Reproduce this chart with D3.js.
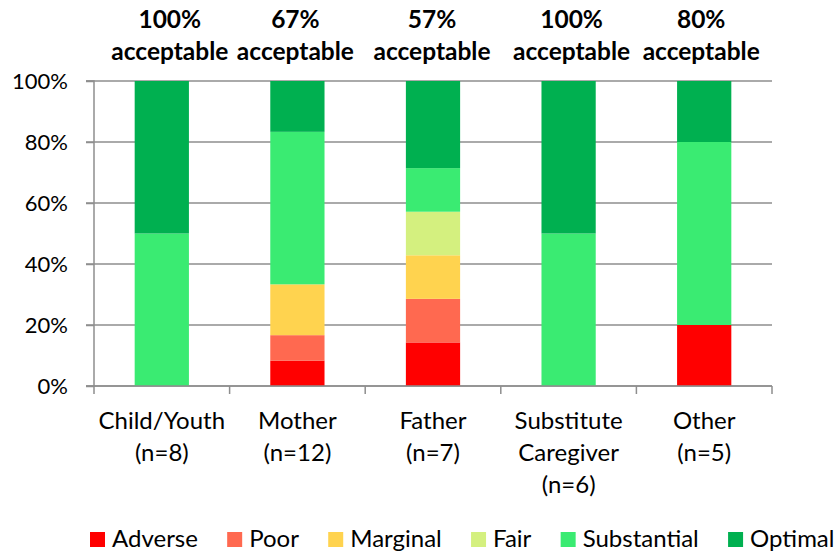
<!DOCTYPE html><html><head><meta charset="utf-8"><script src="https://cdn.jsdelivr.net/npm/d3@7"></script>
<style>body{margin:0;background:#fff}</style></head><body><svg width="837" height="555"></svg><script>
// ---- data ----
const categories = [["Child/Youth","(n=8)"],["Mother","(n=12)"],["Father","(n=7)"],["Substitute","Caregiver","(n=6)"],["Other","(n=5)"]];
const acceptable = ["100%","67%","57%","100%","80%"];
const seriesNames = ["Adverse","Poor","Marginal","Fair","Substantial","Optimal"];
const adverse     = [0, 1/12, 1/7, 0, 1/5];
const poor        = [0, 1/12, 1/7, 0, 0];
const marginal    = [0, 2/12, 1/7, 0, 0];
const fair        = [0, 0,    1/7, 0, 0];
const substantial = [4/8, 6/12, 1/7, 3/6, 3/5];
const optimal     = [4/8, 2/12, 2/7, 3/6, 1/5];
const yTicks = [0,0.2,0.4,0.6,0.8,1];
const colors = ["#FF0000","#FF6950","#FFD34F","#D4F07F","#3AEB72","#00B050"];

// ---- layout ----
const titleNudge = [8,-2,-1,3,-3];
const svg = d3.select("svg");
const L=94, R=772, T=81, B=386;
const ids = categories.map((c,i)=>i);
const x = d3.scaleBand().domain(ids).range([L,R]).paddingInner(0.6).paddingOuter(0.3);
const y = d3.scaleLinear().domain([0,1]).range([B,T]);
const FONT = "Lato, 'Open Sans', sans-serif";
const grid="#8E8E8E";

const rows = ids.map(i=>{const r={i};[adverse,poor,marginal,fair,substantial,optimal].forEach((s,k)=>r[seriesNames[k]]=s[i]);return r;});
const stack = d3.stack().keys(seriesNames)(rows);

// gridlines
svg.append("g").selectAll("line").data(yTicks).join("line")
  .attr("x1",L-8).attr("x2",R).attr("y1",d=>y(d)).attr("y2",d=>y(d))
  .attr("stroke",grid).attr("stroke-width",1.5);

// bars
svg.append("g").selectAll("g").data(stack).join("g").attr("fill",(d,k)=>colors[k])
  .selectAll("rect").data(d=>d).join("rect")
  .attr("x",d=>x(d.data.i)).attr("width",x.bandwidth())
  .attr("y",d=>y(d[1])).attr("height",d=>Math.max(0,y(d[0])-y(d[1])));

// y axis
const yAxis = d3.axisLeft(y).tickValues(yTicks).tickFormat(d3.format(".0%")).tickSize(8).tickPadding(18);
const ya = svg.append("g").attr("transform",`translate(${L},0)`).call(yAxis);
ya.select(".domain").attr("stroke",grid).attr("stroke-width",1.5).attr("d",`M-8,${T}H0V${B}H-8`);
ya.selectAll(".tick line").attr("stroke",grid).attr("stroke-width",1.5);
ya.selectAll("text").attr("font-family",FONT).attr("font-size",22).attr("fill","#000").attr("dy","0.36em");

// x axis baseline + ticks at band boundaries
const bounds = ids.map(i=>x(i)-x.step()*x.paddingInner()/2).concat([R]);
bounds[0]=L;
svg.append("line").attr("x1",L).attr("x2",R).attr("y1",B).attr("y2",B).attr("stroke",grid).attr("stroke-width",1.5);
svg.append("g").selectAll("line").data(bounds).join("line")
  .attr("x1",d=>d).attr("x2",d=>d).attr("y1",B).attr("y2",B+8).attr("stroke",grid).attr("stroke-width",1.5);

// category labels
svg.append("g").selectAll("text").data(categories).join("text")
  .attr("text-anchor","middle").attr("font-family",FONT).attr("font-size",24).attr("fill","#000")
  .attr("transform",(d,i)=>`translate(${x(i)+x.bandwidth()/2},0)`)
  .selectAll("tspan").data(d=>d).join("tspan").attr("x",0).attr("y",(d,j)=>429+j*32).text(d=>d);

// titles
svg.append("g").selectAll("text").data(acceptable).join("text")
  .attr("text-anchor","middle").attr("font-family",FONT).attr("font-weight","bold").attr("font-size",24.5).attr("fill","#000")
  .attr("transform",(d,i)=>`translate(${x(i)+x.bandwidth()/2+titleNudge[i]},0)`)
  .selectAll("tspan").data(d=>[d,"acceptable"]).join("tspan").attr("x",0).attr("y",(d,j)=>28+j*32).text(d=>d);

// legend
const lg = svg.append("g");
let lx = 90;
seriesNames.forEach((n,k)=>{
  lg.append("rect").attr("x",lx).attr("y",532).attr("width",15).attr("height",15).attr("fill",colors[k]);
  const t = lg.append("text").attr("x",lx+22).attr("y",547).attr("font-family",FONT).attr("font-size",24).attr("fill","#000").text(n);
  lx += 22 + t.node().getComputedTextLength() + 29.3;
});
</script></body></html>
